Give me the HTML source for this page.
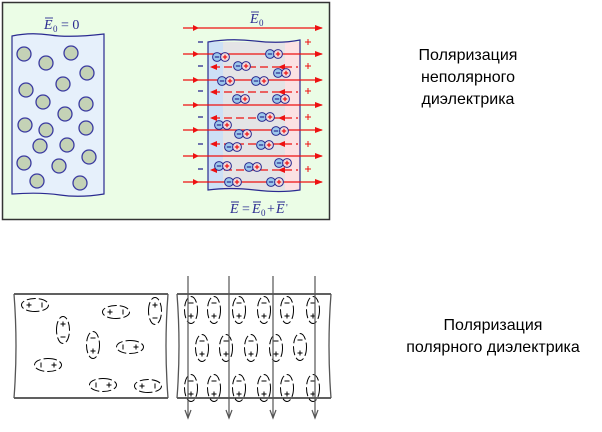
<!DOCTYPE html>
<html><head><meta charset="utf-8"><style>
html,body{margin:0;padding:0;background:#fff;width:602px;height:432px;overflow:hidden}
svg{display:block}
.t{font-family:"Liberation Sans","DejaVu Sans",sans-serif;font-size:16px;fill:#000}
.e{font-family:"Liberation Serif",serif;font-style:italic;font-size:14px;fill:#2a2a90}
</style></head><body>
<svg width="602" height="432" viewBox="0 0 602 432" xmlns="http://www.w3.org/2000/svg">
<defs>
<marker id="ar" markerWidth="8" markerHeight="6" refX="7" refY="3" orient="auto" markerUnits="userSpaceOnUse"><path d="M0,0 L8,3 L0,6 z" fill="#ee1111"/></marker>
<g id="dp">
<circle cx="0" cy="0" r="4.4" fill="#9cc8ec" stroke="#2a2a90" stroke-width="1"/>
<line x1="-2.2" y1="0" x2="2.2" y2="0" stroke="#2a2a90" stroke-width="1.2"/>
<circle cx="8" cy="0" r="4.4" fill="#f4dcdc" stroke="#2a2a90" stroke-width="1"/>
<line x1="5.8" y1="0" x2="10.2" y2="0" stroke="#ee1111" stroke-width="1.2"/>
<line x1="8" y1="-2.2" x2="8" y2="2.2" stroke="#ee1111" stroke-width="1.2"/>
</g>
<g id="ev"><ellipse cx="0" cy="0" rx="6.5" ry="13.5" fill="none" stroke="#000" stroke-width="1" stroke-dasharray="9,3"/>
<line x1="-2.5" y1="-7" x2="2.5" y2="-7" stroke="#000" stroke-width="1"/>
<line x1="-2.5" y1="6" x2="2.5" y2="6" stroke="#000" stroke-width="1"/><line x1="0" y1="3.5" x2="0" y2="8.5" stroke="#000" stroke-width="1"/></g>
</defs>
<!-- top frame -->
<rect x="2.5" y="2.5" width="327" height="217" fill="#ebfde6" stroke="#333" stroke-width="1.5"/>
<!-- left block -->
<path d="M12,36 Q30,32 50,35 T104,34 L104,194 Q80,198 60,195 T12,194 Z" fill="#e6f0fb" stroke="#2a2a90" stroke-width="1.2"/>
<g fill="#c4d2b6" stroke="#3a3aa0" stroke-width="1.3">
<circle cx="24" cy="54" r="7"/><circle cx="46" cy="63" r="7"/><circle cx="71" cy="53" r="7"/><circle cx="87" cy="73" r="7"/><circle cx="63" cy="84" r="7"/><circle cx="26" cy="90" r="7"/><circle cx="43" cy="102" r="7"/><circle cx="86" cy="104" r="7"/><circle cx="65" cy="114" r="7"/><circle cx="25" cy="125" r="7"/><circle cx="46" cy="130" r="7"/><circle cx="86" cy="128" r="7"/><circle cx="40" cy="146" r="7"/><circle cx="67" cy="145" r="7"/><circle cx="24" cy="163" r="7"/><circle cx="59" cy="166" r="7"/><circle cx="89" cy="157" r="7"/><circle cx="37" cy="181" r="7"/><circle cx="80" cy="183" r="7"/>
</g>
<text class="e" x="44" y="29">E</text><text class="e" x="53" y="32" style="font-size:9px;font-style:normal">0</text><text class="e" x="61" y="29" style="font-style:normal">= 0</text>
<line x1="45" y1="18" x2="53" y2="18" stroke="#2a2a90" stroke-width="0.9"/>
<!-- right block -->
<rect x="208" y="42" width="15" height="148" fill="#cde0f6"/>
<rect x="223" y="42" width="62" height="148" fill="#e4e4e6"/>
<rect x="285" y="42" width="15" height="148" fill="#fbe1e3"/>
<path d="M208,42 Q230,38 255,41 T300,40 L300,190 Q280,193 255,190 T208,190 Z" fill="none" stroke="#2a2a90" stroke-width="1.2"/>
<g stroke="#ee1111" stroke-width="1.3" marker-end="url(#ar)">
<line x1="183" y1="28" x2="322" y2="28"/><line x1="183" y1="54" x2="322" y2="54"/><line x1="183" y1="80" x2="322" y2="80"/><line x1="183" y1="105" x2="322" y2="105"/><line x1="183" y1="130" x2="322" y2="130"/><line x1="183" y1="156" x2="322" y2="156"/><line x1="183" y1="182" x2="322" y2="182"/>
</g>
<g fill="#ee1111"><path d="M193,25 l6,3 l-6,3z"/><path d="M193,51 l6,3 l-6,3z"/><path d="M193,77 l6,3 l-6,3z"/><path d="M193,102 l6,3 l-6,3z"/><path d="M193,127 l6,3 l-6,3z"/><path d="M193,153 l6,3 l-6,3z"/><path d="M193,179 l6,3 l-6,3z"/></g>
<g stroke="#ee1111" stroke-width="1.3" stroke-dasharray="8,4">
<line x1="212" y1="67" x2="298" y2="67"/><line x1="212" y1="92" x2="298" y2="92"/><line x1="212" y1="118" x2="298" y2="118"/><line x1="212" y1="144" x2="298" y2="144"/><line x1="212" y1="170" x2="298" y2="170"/>
</g>
<g fill="#ee1111"><path d="M210,67 l7,-3 v6z"/><path d="M210,92 l7,-3 v6z"/><path d="M210,118 l7,-3 v6z"/><path d="M210,144 l7,-3 v6z"/><path d="M210,170 l7,-3 v6z"/>
<path d="M278,67 l7,-3 v6z"/><path d="M278,92 l7,-3 v6z"/><path d="M278,118 l7,-3 v6z"/><path d="M278,144 l7,-3 v6z"/><path d="M278,170 l7,-3 v6z"/></g>
<g stroke="#2a2a90" stroke-width="1.3"><line x1="198" y1="42" x2="203" y2="42"/><line x1="198" y1="66" x2="203" y2="66"/><line x1="198" y1="91" x2="203" y2="91"/><line x1="198" y1="117" x2="203" y2="117"/><line x1="198" y1="144" x2="203" y2="144"/><line x1="198" y1="169" x2="203" y2="169"/></g>
<g stroke="#ee1111" stroke-width="1"><path d="M305,42h6M308,39v6M305,66h6M308,63v6M305,91h6M308,88v6M305,117h6M308,114v6M305,144h6M308,141v6M305,169h6M308,166v6"/></g>
<use href="#dp" x="217" y="57"/><use href="#dp" x="270" y="54"/><use href="#dp" x="238" y="66"/><use href="#dp" x="278" y="73"/><use href="#dp" x="222" y="81"/><use href="#dp" x="256" y="81"/><use href="#dp" x="237" y="99"/><use href="#dp" x="277" y="99"/><use href="#dp" x="262" y="117"/><use href="#dp" x="219" y="125"/><use href="#dp" x="239" y="134"/><use href="#dp" x="276" y="131"/><use href="#dp" x="229" y="147"/><use href="#dp" x="261" y="145"/><use href="#dp" x="219" y="166"/><use href="#dp" x="249" y="167"/><use href="#dp" x="279" y="163"/><use href="#dp" x="229" y="182"/><use href="#dp" x="271" y="182"/>
<text class="e" x="250" y="23">E</text><text class="e" x="259" y="26" style="font-size:9px;font-style:normal">0</text>
<line x1="251" y1="12" x2="259" y2="12" stroke="#2a2a90" stroke-width="0.9"/>
<text class="e" x="230" y="213">E</text><text class="e" x="242" y="213" style="font-style:normal">=</text><text class="e" x="252" y="213">E</text><text class="e" x="261" y="216" style="font-size:9px;font-style:normal">0</text><text class="e" x="267" y="213" style="font-style:normal">+</text><text class="e" x="276" y="213">E</text><text class="e" x="286" y="211" style="font-style:normal;font-size:10px">'</text>
<path d="M231,202h8M253,202h8M277,202h8" stroke="#2a2a90" stroke-width="0.9"/>
<!-- texts -->
<text class="t" x="468" y="60" text-anchor="middle">Поляризация</text>
<text class="t" x="468" y="82" text-anchor="middle">неполярного</text>
<text class="t" x="468" y="104" text-anchor="middle">диэлектрика</text>
<text class="t" x="493" y="330" text-anchor="middle">Поляризация</text>
<text class="t" x="493" y="352" text-anchor="middle">полярного диэлектрика</text>
<!-- bottom -->
<g stroke="#000" stroke-width="1.3" fill="none">
<line x1="14" y1="294" x2="168" y2="294"/><line x1="14" y1="398" x2="168" y2="398"/>
<path d="M14,294 Q18,346 14,398" stroke="#555"/><path d="M168,294 Q164,346 168,398" stroke="#555"/>
<line x1="177" y1="294" x2="331" y2="294"/><line x1="177" y1="398" x2="331" y2="398"/>
<path d="M177,294 Q181,346 177,398" stroke="#555"/><path d="M331,294 Q327,346 331,398" stroke="#555"/>
</g>
<g>
<g transform="translate(35,305) rotate(90)"><use href="#ev"/></g>
<g transform="translate(116,312) rotate(90)"><use href="#ev"/></g>
<g transform="translate(155,311) rotate(180)"><use href="#ev"/></g>
<g transform="translate(63,330) rotate(180)"><use href="#ev"/></g>
<g transform="translate(93,345)"><use href="#ev"/></g>
<g transform="translate(130,347) rotate(-90)"><use href="#ev"/></g>
<g transform="translate(48,365) rotate(-90)"><use href="#ev"/></g>
<g transform="translate(103,385) rotate(-90)"><use href="#ev"/></g>
<g transform="translate(148,386) rotate(90)"><use href="#ev"/></g>
</g>
<use href="#ev" x="191" y="310"/><use href="#ev" x="214" y="310"/><use href="#ev" x="239" y="310"/><use href="#ev" x="264" y="310"/><use href="#ev" x="287" y="310"/><use href="#ev" x="313" y="310"/>
<use href="#ev" x="202" y="348"/><use href="#ev" x="226" y="348"/><use href="#ev" x="251" y="348"/><use href="#ev" x="276" y="348"/><use href="#ev" x="300" y="347"/>
<use href="#ev" x="191" y="388"/><use href="#ev" x="214" y="388"/><use href="#ev" x="239" y="388"/><use href="#ev" x="264" y="388"/><use href="#ev" x="287" y="388"/><use href="#ev" x="313" y="388"/>
<g stroke="#555" stroke-width="1.2" fill="none">
<line x1="188" y1="276" x2="188" y2="418"/><line x1="229" y1="276" x2="229" y2="418"/><line x1="273" y1="276" x2="273" y2="418"/><line x1="315" y1="276" x2="315" y2="418"/>
<path d="M185,410 l3,8 l3,-8M226,410 l3,8 l3,-8M270,410 l3,8 l3,-8M312,410 l3,8 l3,-8"/>
</g>
</svg>
</body></html>
